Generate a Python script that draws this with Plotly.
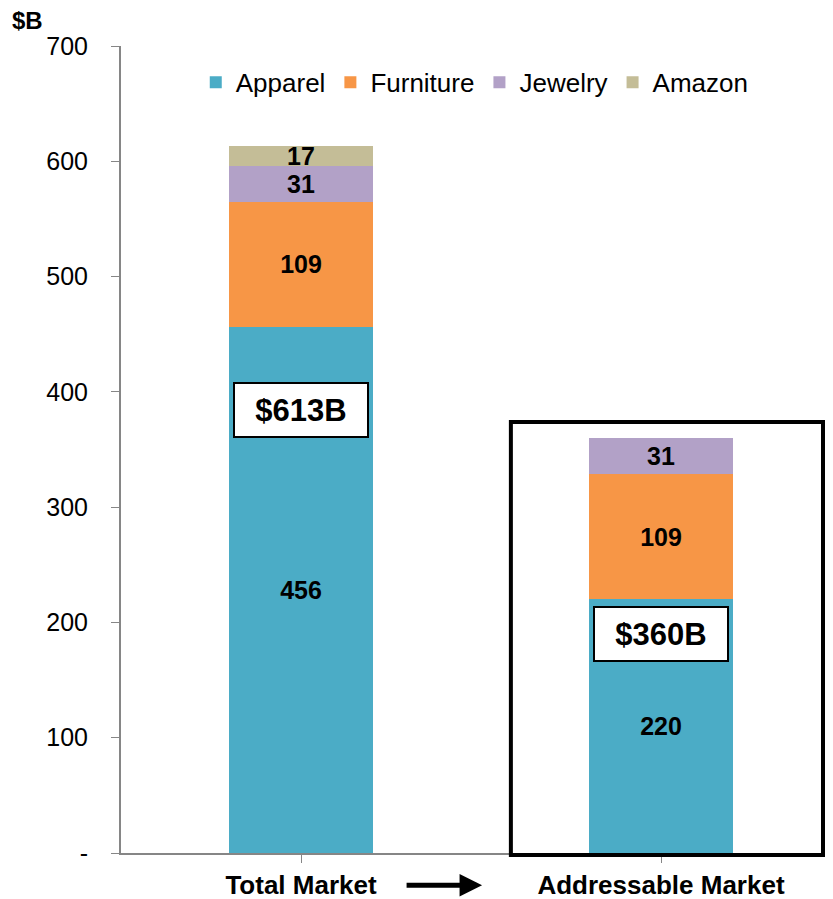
import plotly.graph_objects as go

categories = ["Total Market", "Addressable Market"]
apparel = [456, 220]
furniture = [109, 109]
jewelry = [31, 31]
amazon = [17, 0]
totals_text = ["$613B", "$360B"]
box_values = [384, 190]
y_ticks = [0, 100, 200, 300, 400, 500, 600, 700]
y_tick_text = ["-", "100", "200", "300", "400", "500", "600", "700"]

series = [
    ("Apparel", apparel, "#4BACC6"),
    ("Furniture", furniture, "#F79646"),
    ("Jewelry", jewelry, "#B2A1C7"),
    ("Amazon", amazon, "#C4BD97"),
]

fig = go.Figure()
for name, vals, color in series:
    fig.add_trace(go.Bar(
        x=[0, 1], y=vals, name=name, marker=dict(color=color, line=dict(width=0)),
        width=0.4,
        text=[str(v) if v else "" for v in vals],
        textposition="inside", insidetextanchor="middle", constraintext="none", textangle=0,
        textfont=dict(family="Liberation Sans, Arial, sans-serif", size=25, color="black", weight="bold"),
        hoverinfo="skip",
    ))

# page is rendered with an 8px body margin, so the figure is sized to fit the window
fig.update_layout(
    barmode="stack",
    width=825, height=891,
    margin=dict(l=113, r=0, t=38, b=46),
    paper_bgcolor="white", plot_bgcolor="white",
    font=dict(family="Liberation Sans, Arial, sans-serif", color="black"),
    legend=dict(orientation="h", x=0.105, y=0.955, xanchor="left", yanchor="middle",
                font=dict(size=26), traceorder="normal", itemclick=False,
                bgcolor="rgba(0,0,0,0)"),
    showlegend=True,
)
fig.update_xaxes(
    range=[-0.5, -0.5 + 712 / 360], tickvals=[0, 1], ticktext=categories,
    showline=True, linecolor="#868686", linewidth=2, showgrid=False, zeroline=False,
    ticks="outside", tickson="boundaries", ticklen=8, tickcolor="#868686", tickwidth=1,
    tickfont=dict(family="Liberation Sans, Arial, sans-serif", size=26, weight="bold"),
    ticklabelstandoff=0,
)
fig.update_yaxes(
    range=[0, 700], tickvals=y_ticks, ticktext=y_tick_text,
    showline=True, linecolor="#868686", linewidth=2, showgrid=False, zeroline=False,
    ticks="outside", ticklen=8, tickcolor="#868686", tickwidth=1,
    tickfont=dict(size=25), ticklabelstandoff=18,
)

# total boxes
for i, (t, v) in enumerate(zip(totals_text, box_values)):
    fig.add_annotation(x=i, y=v, xref="x", yref="y", text=f"<b>{t}</b>", showarrow=False,
                       font=dict(size=31, color="black"), bgcolor="white",
                       bordercolor="black", borderwidth=2, borderpad=2, width=128, height=48)

# $B unit label
fig.add_annotation(x=-0.156, y=1.032, xref="paper", yref="paper", xanchor="left", yanchor="middle",
                   text="<b>$B</b>", showarrow=False, font=dict(size=24, color="black"))

# highlight box around addressable market
fig.add_shape(type="rect", xref="x", yref="paper", x0=0.583, x1=1.45, y0=-0.0025, y1=(845 - 414) / 807,
              line=dict(color="black", width=4), fillcolor="rgba(0,0,0,0)", layer="above")

# arrow between categories
fig.add_annotation(x=0.503, y=-0.04, xref="x", yref="paper", axref="pixel", ayref="pixel",
                   ax=-77, ay=0,
                   text="", showarrow=True, arrowhead=2, arrowsize=0.9, arrowwidth=5, arrowcolor="black")

fig.write_html("out.html", post_script="document.body.style.overflow='hidden';")
